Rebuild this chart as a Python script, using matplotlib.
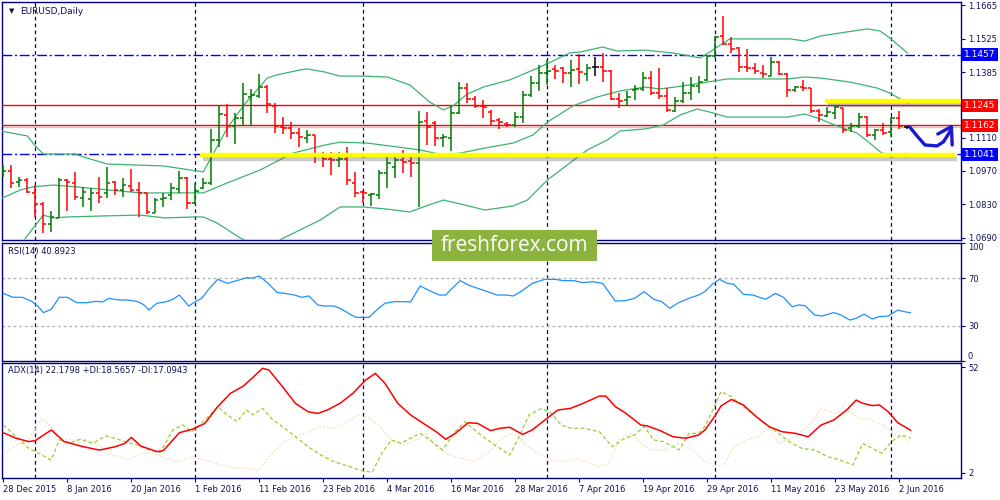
import matplotlib
matplotlib.use('Agg')
import matplotlib.pyplot as plt
from matplotlib.collections import LineCollection
import matplotlib.patheffects as pe
from matplotlib.patches import Rectangle
import numpy as np

# ---------------- data ----------------
date_labels = ['28 Dec 2015', '8 Jan 2016', '20 Jan 2016', '1 Feb 2016', '11 Feb 2016',
               '23 Feb 2016', '4 Mar 2016', '16 Mar 2016', '28 Mar 2016', '7 Apr 2016',
               '19 Apr 2016', '29 Apr 2016', '11 May 2016', '23 May 2016', '2 Jun 2016']
date_label_bars = [0, 8, 16, 24, 32, 40, 48, 56, 64, 72, 80, 88, 96, 104, 112]
month_start_bars = [4, 24, 45, 68, 89, 111]

opens = [1.0960, 1.0970, 1.0925, 1.0932, 1.0876, 1.0832, 1.0748, 1.0771, 1.0932, 1.0921,
         1.0855, 1.0852, 1.0879, 1.0876, 1.0925, 1.0890, 1.0908, 1.0890, 1.0876, 1.0792,
         1.0851, 1.0869, 1.0893, 1.0939, 1.0834, 1.0900, 1.0918, 1.1100, 1.1205, 1.1159,
         1.1191, 1.1282, 1.1286, 1.1324, 1.1243, 1.1156, 1.1149, 1.1128, 1.1107, 1.1121,
         1.1037, 1.1019, 1.1016, 1.1019, 1.0921, 1.0883, 1.0869, 1.0869, 1.0960, 1.0988,
         1.1016, 1.1012, 1.1002, 1.1180, 1.1170, 1.1107, 1.1107, 1.1212, 1.1317, 1.1271,
         1.1243, 1.1219, 1.1184, 1.1167, 1.1163, 1.1195, 1.1289, 1.1340, 1.1380, 1.1396,
         1.1401, 1.1382, 1.1396, 1.1377, 1.1408, 1.1408, 1.1391, 1.1271, 1.1268, 1.1310,
         1.1313, 1.1359, 1.1299, 1.1285, 1.1223, 1.1265, 1.1299, 1.1327, 1.1352, 1.1452,
         1.1536, 1.1503, 1.1487, 1.1408, 1.1401, 1.1382, 1.1368, 1.1429, 1.1377, 1.1310,
         1.1321, 1.1317, 1.1223, 1.1201, 1.1215, 1.1233, 1.1149, 1.1159, 1.1198, 1.1121,
         1.1142, 1.1135, 1.1191, 1.1153]
highs = [1.0995, 1.0995, 1.0943, 1.0939, 1.0911, 1.0841, 1.0804, 1.0939, 1.0935, 1.0967,
         1.0904, 1.0897, 1.0943, 1.0988, 1.0928, 1.0939, 1.0977, 1.0925, 1.0879, 1.0855,
         1.0879, 1.0918, 1.0971, 1.0946, 1.0921, 1.0939, 1.1145, 1.1243, 1.1250, 1.1215,
         1.1338, 1.1313, 1.1377, 1.1331, 1.1254, 1.1195, 1.1177, 1.1149, 1.1142, 1.1121,
         1.1051, 1.1051, 1.1051, 1.1072, 1.0967, 1.0890, 1.0879, 1.0974, 1.1044, 1.1030,
         1.1058, 1.1044, 1.1222, 1.1219, 1.1181, 1.1125, 1.1243, 1.1345, 1.1338, 1.1285,
         1.1268, 1.1226, 1.1191, 1.1177, 1.1219, 1.1307, 1.1368, 1.1415, 1.1436, 1.1415,
         1.1408, 1.1436, 1.1461, 1.1419, 1.1447, 1.1464, 1.1394, 1.1296, 1.1307, 1.1331,
         1.1387, 1.1391, 1.1401, 1.1317, 1.1279, 1.1345, 1.1366, 1.1368, 1.1457, 1.1536,
         1.1620, 1.1531, 1.1491, 1.1480, 1.1422, 1.1415, 1.1447, 1.1431, 1.1380, 1.1327,
         1.1352, 1.1317, 1.1229, 1.1240, 1.1243, 1.1233, 1.1170, 1.1215, 1.1201, 1.1145,
         1.1173, 1.1195, 1.1222, 1.1159]
lows = [1.0946, 1.0897, 1.0901, 1.0876, 1.0778, 1.0711, 1.0713, 1.0771, 1.0804, 1.0848,
        1.0820, 1.0804, 1.0834, 1.0855, 1.0869, 1.0859, 1.0883, 1.0778, 1.0790, 1.0792,
        1.0820, 1.0848, 1.0876, 1.0809, 1.0832, 1.0893, 1.0911, 1.1072, 1.1111, 1.1083,
        1.1159, 1.1159, 1.1275, 1.1215, 1.1128, 1.1125, 1.1103, 1.1069, 1.1089, 1.1002,
        1.0988, 1.0953, 1.0986, 1.0911, 1.0859, 1.0834, 1.0823, 1.0851, 1.0897, 1.0939,
        1.0963, 1.0946, 1.0820, 1.1079, 1.1075, 1.1072, 1.1055, 1.1209, 1.1257, 1.1233,
        1.1191, 1.1163, 1.1145, 1.1153, 1.1153, 1.1170, 1.1282, 1.1307, 1.1331, 1.1354,
        1.1338, 1.1324, 1.1335, 1.1349, 1.1368, 1.1345, 1.1268, 1.1233, 1.1247, 1.1268,
        1.1307, 1.1289, 1.1271, 1.1219, 1.1219, 1.1257, 1.1268, 1.1296, 1.1347, 1.1443,
        1.1498, 1.1466, 1.1387, 1.1387, 1.1377, 1.1359, 1.1368, 1.1373, 1.1282, 1.1303,
        1.1307, 1.1215, 1.1177, 1.1198, 1.1187, 1.1131, 1.1135, 1.1149, 1.1111, 1.1100,
        1.1121, 1.1111, 1.1145, 1.1145]
closes = [1.0970, 1.0918, 1.0932, 1.0883, 1.0832, 1.0746, 1.0778, 1.0932, 1.0925, 1.0862,
          1.0883, 1.0879, 1.0862, 1.0918, 1.0890, 1.0910, 1.0890, 1.0876, 1.0799, 1.0848,
          1.0855, 1.0897, 1.0939, 1.0834, 1.0887, 1.0921, 1.1100, 1.1209, 1.1159, 1.1191,
          1.1292, 1.1290, 1.1324, 1.1251, 1.1159, 1.1149, 1.1128, 1.1111, 1.1121, 1.1041,
          1.1019, 1.1016, 1.1019, 1.0932, 1.0879, 1.0876, 1.0874, 1.0960, 1.1005, 1.1016,
          1.1009, 1.1002, 1.1177, 1.1156, 1.1107, 1.1111, 1.1212, 1.1317, 1.1272, 1.1243,
          1.1240, 1.1181, 1.1177, 1.1163, 1.1195, 1.1289, 1.1340, 1.1380, 1.1391, 1.1391,
          1.1382, 1.1394, 1.1387, 1.1401, 1.1408, 1.1391, 1.1273, 1.1265, 1.1282, 1.1313,
          1.1359, 1.1296, 1.1286, 1.1226, 1.1265, 1.1299, 1.1327, 1.1345, 1.1452, 1.1533,
          1.1503, 1.1480, 1.1405, 1.1402, 1.1391, 1.1377, 1.1429, 1.1377, 1.1310, 1.1321,
          1.1317, 1.1223, 1.1205, 1.1219, 1.1237, 1.1142, 1.1159, 1.1198, 1.1121, 1.1142,
          1.1131, 1.1191, 1.1159, 1.1153]

# Bollinger bands
bb_up_x = [-0.4, 3.0, 4.0, 5.0, 9.0, 10.0, 13.0, 20.0, 25.0, 28.0, 30.0, 33.0, 34.2, 37.1, 38.0,
           40.2, 42.1, 45.0, 48.0, 50.8, 53.3, 55.0, 56.2, 58.0, 60.0, 63.3, 67.1, 70.8, 72.1,
           74.9, 76.7, 80.2, 83.7, 87.1, 88.3, 90.8, 98.3, 100.2, 102.1, 104.6, 108.0, 109.6,
           110.8, 113.0]
bb_up = [1.1138, 1.1117, 1.1075, 1.1041, 1.1041, 1.1029, 1.0999, 1.0991, 1.0966, 1.1150, 1.1243,
         1.1360, 1.1373, 1.1394, 1.1398, 1.1385, 1.1368, 1.1368, 1.1364, 1.1331, 1.1259, 1.1226,
         1.1243, 1.1293, 1.1322, 1.1352, 1.1406, 1.1465, 1.1469, 1.1490, 1.1473, 1.1477, 1.1465,
         1.1444, 1.1469, 1.1524, 1.1524, 1.1515, 1.1536, 1.1549, 1.1566, 1.1557, 1.1528, 1.1465]
bb_mid_x = [-0.4, 2.1, 3.7, 6.2, 9.2, 13.3, 17.1, 20.2, 25.0, 28.0, 32.1, 36.2, 40.2, 42.1, 45.5,
            49.2, 52.1, 55.0, 57.1, 60.2, 63.7, 66.2, 68.0, 71.2, 74.2, 77.1, 80.2, 82.1, 85.0,
            88.0, 90.5, 95.5, 98.0, 100.2, 102.1, 105.8, 109.2, 110.8, 113.0]
bb_mid = [1.0852, 1.0890, 1.0903, 1.0911, 1.0903, 1.0890, 1.0878, 1.0878, 1.0878, 1.0920, 1.0974,
          1.1045, 1.1079, 1.1091, 1.1087, 1.1071, 1.1058, 1.1037, 1.1045, 1.1066, 1.1087, 1.1121,
          1.1175, 1.1243, 1.1280, 1.1306, 1.1322, 1.1314, 1.1327, 1.1343, 1.1356, 1.1356, 1.1356,
          1.1364, 1.1360, 1.1343, 1.1318, 1.1297, 1.1255]
bb_low_x = [2.7, 5.0, 6.2, 8.0, 12.1, 17.1, 20.2, 23.7, 25.0, 26.7, 29.6, 31.4, 33.3, 34.8, 39.6,
            42.1, 45.0, 48.0, 50.8, 52.5, 55.0, 57.1, 60.2, 63.7, 65.5, 68.0, 70.8, 73.0, 75.5,
            77.1, 80.2, 82.5, 84.6, 86.7, 88.3, 90.5, 96.2, 98.0, 100.2, 102.1, 104.2, 106.7,
            108.3, 109.8, 113.0]
bb_low = [1.0685, 1.0785, 1.0773, 1.0777, 1.0781, 1.0785, 1.0773, 1.0777, 1.0777, 1.0752, 1.0689,
          1.0660, 1.0651, 1.0685, 1.0764, 1.0819, 1.0819, 1.0810, 1.0798, 1.0819, 1.0848, 1.0832,
          1.0806, 1.0823, 1.0848, 1.0932, 1.1003, 1.1058, 1.1100, 1.1138, 1.1146, 1.1163, 1.1205,
          1.1230, 1.1217, 1.1196, 1.1196, 1.1196, 1.1209, 1.1188, 1.1159, 1.1129, 1.1087, 1.1045,
          1.1029]

# horizontal levels
level_blue = [1.1457, 1.1041]
level_red = [1.1245, 1.1162]
bid_price = 1.1153
yellow_low = {'x': [24.6, 118.9], 'y': 1.1036}
yellow_high = {'x': [102.7, 119.7], 'y': 1.1263}
arrow_x = [113.3, 114.3, 115.2, 116.7, 117.5, 118.3, 118.5]
arrow_y = [1.1154, 1.1113, 1.1079, 1.1075, 1.1092, 1.1134, 1.1156]
arrow_head_x = [116.8, 118.5, 118.6]
arrow_head_y = [1.1125, 1.1156, 1.1079]

price_ticks = [1.1665, 1.1525, 1.1385, 1.1245, 1.1110, 1.0970, 1.0830, 1.0690]

# RSI(14)
rsi_x = [0.0, 1.2, 2.4, 3.6, 4.4, 5.0, 6.0, 7.0, 8.0, 9.2, 10.4, 11.6, 12.4, 13.2, 14.4, 15.6,
         16.8, 17.6, 18.2, 19.2, 20.4, 21.2, 22.0, 23.2, 24.0, 24.8, 25.6, 26.8, 28.0, 29.2,
         30.4, 31.2, 32.0, 33.1, 34.2, 35.2, 36.4, 37.3, 38.2, 39.3, 40.1, 41.3, 42.1, 43.3,
         44.1, 45.7, 46.9, 47.7, 48.9, 50.1, 50.9, 52.1, 53.1, 54.5, 55.3, 56.1, 57.1, 58.1,
         59.3, 60.5, 61.7, 62.9, 63.7, 64.7, 66.1, 67.7, 68.9, 70.1, 71.3, 72.5, 73.7, 74.9,
         76.5, 77.7, 78.9, 80.1, 81.3, 82.3, 83.3, 84.4, 85.7, 86.9, 87.7, 88.5, 89.5, 90.5,
         91.3, 92.5, 93.7, 94.5, 95.3, 96.5, 97.5, 98.6, 99.4, 100.2, 101.4, 102.3, 103.8,
         104.7, 105.8, 106.6, 107.6, 108.6, 109.5, 110.6, 111.8, 112.6, 113.4]
rsi_v = [57.3, 54.0, 54.0, 50.3, 46.0, 41.0, 43.8, 54.0, 54.0, 49.4, 49.4, 50.6, 50.0, 53.1, 51.7,
         51.7, 50.3, 47.5, 43.2, 48.9, 50.3, 52.3, 55.9, 46.6, 50.3, 53.1, 60.2, 69.2, 65.8, 68.1,
         70.6, 70.3, 72.0, 65.8, 58.2, 57.3, 55.9, 54.0, 55.1, 47.5, 46.6, 46.6, 44.6, 39.8, 37.0,
         37.0, 44.6, 48.9, 50.3, 50.3, 50.0, 63.6, 60.2, 55.9, 55.9, 61.6, 68.1, 64.4, 61.6, 58.8,
         55.9, 55.9, 55.1, 58.8, 65.8, 69.2, 69.2, 68.1, 68.1, 66.4, 67.2, 65.8, 50.8, 51.1, 53.1,
         58.8, 52.3, 50.3, 44.6, 49.4, 53.1, 55.9, 58.8, 64.4, 69.2, 65.8, 65.0, 56.5, 55.9, 54.0,
         52.3, 57.3, 54.0, 46.0, 47.5, 46.9, 39.0, 38.1, 41.0, 39.0, 34.7, 36.2, 39.8, 35.6, 37.6,
         38.1, 43.2, 41.8, 40.9]

# ADX(14), +DI, -DI
adx_x = [0.0, 1.6, 3.2, 4.0, 6.0, 7.6, 10.0, 12.0, 14.0, 15.2, 16.0, 17.2, 19.2, 20.0, 22.0, 23.6,
         25.2, 26.8, 28.4, 30.0, 31.2, 32.4, 33.2, 34.9, 36.5, 38.1, 39.3, 40.5, 42.1, 43.7, 45.3,
         46.5, 47.7, 49.3, 50.9, 52.5, 54.1, 55.3, 56.5, 58.1, 59.3, 60.9, 62.1, 63.3, 64.9, 66.1,
         67.7, 69.3, 70.9, 72.5, 74.5, 75.3, 76.5, 77.7, 79.7, 80.5, 82.1, 83.7, 85.3, 86.9, 87.7,
         88.9, 89.7, 91.0, 92.5, 94.1, 95.7, 97.3, 99.0, 100.6, 102.2, 103.8, 105.4, 106.6, 107.4,
         108.6, 109.5, 110.6, 111.8, 113.4]
adx_v = [21.0, 18.4, 16.8, 17.3, 22.3, 16.8, 14.4, 12.8, 14.4, 16.0, 18.8, 14.7, 12.1, 12.5, 21.0,
         22.6, 25.4, 33.3, 39.6, 43.0, 47.1, 51.4, 50.6, 42.7, 34.9, 30.9, 30.1, 31.7, 34.9, 39.6,
         45.9, 49.0, 44.3, 34.9, 29.4, 25.4, 21.5, 17.9, 20.7, 25.7, 25.4, 22.0, 23.1, 23.6, 20.2,
         22.3, 27.0, 31.7, 32.5, 34.9, 38.3, 38.3, 33.3, 30.5, 24.6, 24.2, 22.0, 19.1, 18.4, 19.9,
         22.3, 28.6, 33.6, 36.7, 34.1, 28.6, 23.9, 21.5, 20.7, 19.1, 24.6, 27.0, 31.7, 36.4, 34.9,
         33.8, 34.1, 30.9, 25.7, 22.2]
pdi_x = [0.0, 1.6, 3.2, 4.4, 6.0, 7.0, 8.4, 9.6, 11.2, 12.8, 14.4, 15.6, 16.8, 18.0, 19.6, 21.2,
         22.4, 23.6, 25.2, 26.8, 28.0, 29.2, 30.4, 31.2, 32.4, 33.7, 35.2, 36.5, 38.1, 39.7, 41.3,
         43.3, 44.5, 46.1, 47.3, 48.5, 49.7, 50.9, 52.1, 53.3, 54.9, 56.5, 57.7, 58.9, 60.5, 62.1,
         63.3, 64.5, 65.7, 67.3, 68.5, 69.7, 70.9, 72.5, 74.5, 76.1, 77.7, 78.9, 80.1, 81.3, 82.5,
         83.7, 84.5, 85.7, 86.9, 87.7, 88.5, 89.7, 91.0, 92.5, 94.1, 95.7, 96.9, 98.2, 99.8, 101.4,
         103.0, 104.6, 106.2, 107.4, 108.6, 109.8, 111.0, 112.2, 113.4]
pdi_v = [24.7, 19.2, 13.6, 11.3, 8.1, 17.6, 16.3, 17.9, 16.0, 19.5, 17.9, 16.3, 15.2, 13.2, 11.6,
         22.3, 24.7, 21.5, 27.0, 33.3, 29.4, 26.2, 31.7, 29.4, 32.5, 27.0, 23.1, 19.2, 14.4, 10.5,
         7.4, 5.0, 3.4, 2.3, 11.3, 17.6, 16.0, 18.4, 20.7, 17.6, 12.9, 21.5, 26.2, 22.3, 17.6, 13.6,
         10.5, 19.2, 29.4, 32.5, 30.2, 24.7, 23.1, 23.1, 21.5, 14.4, 18.4, 19.9, 23.9, 17.6, 16.8,
         14.4, 12.9, 20.7, 20.7, 23.9, 30.2, 40.4, 38.0, 33.3, 28.6, 23.9, 20.7, 16.8, 13.6, 12.9,
         9.7, 8.1, 5.8, 16.0, 13.6, 11.3, 16.8, 19.9, 18.6]
mdi_x = [0.0, 1.6, 3.2, 4.8, 6.0, 7.2, 8.8, 10.4, 11.6, 13.2, 15.6, 17.2, 18.8, 20.4, 22.0, 23.6,
         25.2, 27.2, 29.2, 30.8, 32.0, 33.2, 34.9, 36.5, 38.1, 39.7, 41.3, 42.9, 44.5, 45.7, 46.9,
         48.5, 50.1, 51.7, 52.9, 54.1, 55.7, 57.3, 58.9, 60.5, 62.1, 63.3, 64.5, 65.3, 66.9, 68.5,
         70.1, 71.7, 73.3, 74.5, 75.7, 76.9, 78.5, 79.7, 80.9, 82.9, 84.5, 86.1, 87.7, 88.9, 90.1,
         91.3, 92.9, 94.5, 95.7, 96.9, 98.9, 100.6, 102.2, 103.8, 105.4, 107.0, 108.6, 109.8,
         111.4, 113.4]
mdi_v = [11.3, 15.2, 17.6, 27.8, 23.9, 18.4, 17.6, 17.9, 16.0, 11.3, 8.1, 11.3, 11.3, 8.9, 7.4,
         9.7, 8.1, 5.8, 4.2, 4.2, 3.4, 9.7, 16.0, 19.2, 21.5, 23.9, 23.1, 26.2, 29.4, 27.8, 24.7,
         17.6, 15.2, 17.6, 20.7, 14.4, 10.5, 8.9, 7.4, 11.3, 17.6, 20.7, 19.2, 15.2, 11.3, 8.1, 7.4,
         8.9, 6.6, 5.0, 6.6, 17.6, 20.7, 16.0, 12.9, 12.9, 16.0, 12.9, 7.4, 5.0, 5.8, 14.4, 17.6,
         19.2, 23.9, 16.0, 19.2, 23.9, 32.5, 30.2, 31.7, 27.8, 27.0, 24.7, 20.7, 17.1]

# ---------------- styling ----------------
NAVY = '#000080'
TXT = '#10105a'
BLUE = '#0000ff'
RED = '#ff0000'
BULL = '#007a00'
BEAR = '#ff0000'
BBCOL = '#3cb371'
plt.rcParams['font.family'] = ['DejaVu Sans']

fig = plt.figure(figsize=(10, 5), dpi=100)
fig.patch.set_facecolor('white')
ax = fig.add_axes([0.002, 0.52, 0.959, 0.476])
ax_rsi = fig.add_axes([0.002, 0.278, 0.959, 0.236], sharex=ax)
ax_adx = fig.add_axes([0.002, 0.044, 0.959, 0.230], sharex=ax)

XMIN, XMAX = -0.16, 119.7
for a in (ax, ax_rsi, ax_adx):
    a.set_xlim(XMIN, XMAX)
    for s in a.spines.values():
        s.set_color(NAVY)
        s.set_linewidth(1.0)
    a.yaxis.tick_right()
    a.tick_params(axis='y', colors=NAVY, labelcolor=TXT, labelsize=6, length=3, width=0.8, pad=2)
    for b in month_start_bars:
        a.axvline(b, color=NAVY, lw=0.9, ls=(0, (3, 2.5)), zorder=1)

# ---- main panel ----
ax.set_ylim(1.06804, 1.16788)
n = len(opens)
segs, cols = [], []
for i in range(n):
    o, h, l, c = opens[i], highs[i], lows[i], closes[i]
    col = BULL if c > o else (BEAR if c < o else 'black')
    segs += [[(i, l), (i, h)], [(i - 0.4, o), (i, o)], [(i, c), (i + 0.4, c)]]
    cols += [col] * 3
ax.add_collection(LineCollection(segs, colors=cols, linewidths=1.1, zorder=5))

ax.plot(bb_up_x, bb_up, color=BBCOL, lw=0.9, zorder=4)
ax.plot(bb_mid_x, bb_mid, color=BBCOL, lw=0.9, zorder=4)
ax.plot(bb_low_x, bb_low, color=BBCOL, lw=0.9, zorder=4)

for lv in level_blue:
    ax.axhline(lv, color=BLUE, lw=1.0, ls=(0, (7, 2, 1.5, 2)), zorder=3)
ax.axhline(bid_price, color='#c8c8c8', lw=1.0, zorder=2)
for lv in level_red:
    ax.axhline(lv, color=RED, lw=1.0, zorder=3)

shadow = [pe.SimpleLineShadow(offset=(2, -2.5), shadow_color='#505050', alpha=0.3), pe.Normal()]
ax.plot(yellow_low['x'], [yellow_low['y']] * 2, color='#ffff00', lw=3.2,
        solid_capstyle='butt', zorder=6, path_effects=shadow)
ax.plot(yellow_high['x'], [yellow_high['y']] * 2, color='#ffff00', lw=3.2,
        solid_capstyle='butt', zorder=6, path_effects=shadow, clip_on=True)

ax.plot(arrow_x, arrow_y, color='#1a1acc', lw=2.4, solid_capstyle='round',
        solid_joinstyle='round', zorder=8)
ax.plot(arrow_head_x, arrow_head_y, color='#1a1acc', lw=2.4, solid_capstyle='round',
        solid_joinstyle='round', zorder=8)

ax.set_yticks(price_ticks)
# the 1.1245 tick label sits under its own boxed label, as in the reference
ax.set_yticklabels(['' if abs(v - 1.1245) < 1e-6 else '%.4f' % v for v in price_ticks])
ax.tick_params(axis='x', bottom=False, labelbottom=False)

ytr = ax.get_yaxis_transform()
# current-price (bid) marker: mostly hidden under the 1.1162 label
ax.add_patch(Rectangle((1.0022, bid_price - 0.0021), 0.0355, 0.0042, transform=ytr,
                       facecolor=NAVY, edgecolor='none', clip_on=False, zorder=9))


def price_box(val, fc):
    ax.text(1.0035, val, '%.4f' % val, transform=ytr, ha='left', va='center', fontsize=6.5,
            color='white', zorder=10, clip_on=False,
            bbox=dict(boxstyle='square,pad=0.22', fc=fc, ec='none'))


price_box(1.1457, BLUE)
price_box(1.1245, RED)
price_box(1.1162, RED)
price_box(1.1041, BLUE)

ax.text(0.0073, 0.962, '\u25BC', transform=ax.transAxes, fontsize=5, color=TXT, va='center')
ax.text(0.0188, 0.962, 'EURUSD,Daily', transform=ax.transAxes, fontsize=6.5, color=TXT,
        va='center', ha='left')

# ---- RSI panel ----
ax_rsi.set_ylim(0, 100)
ax_rsi.plot(rsi_x, rsi_v, color='#1e90ff', lw=0.9, zorder=4)
for lv in (70, 30):
    ax_rsi.axhline(lv, color='#b4b4b4', lw=1.0, ls=(0, (2, 2)), zorder=2)
ax_rsi.set_yticks([100, 70, 30, 0])
ax_rsi.set_yticklabels(['100', '70', '30', '0'])
tl = ax_rsi.get_yticklabels()
tl[0].set_va('top')
tl[3].set_va('bottom')
ax_rsi.tick_params(axis='x', bottom=False, labelbottom=False)
ax_rsi.text(0.006, 0.932, 'RSI(14) 40.8923', transform=ax_rsi.transAxes, fontsize=6,
            color=TXT, va='center', ha='left')

# ---- ADX panel ----
ax_adx.set_ylim(-0.36, 53.9)
ax_adx.plot(mdi_x, mdi_v, color='#f5deb3', lw=0.9, ls=(0, (1.5, 1.5)), zorder=3)
ax_adx.plot(pdi_x, pdi_v, color='#9acd32', lw=0.9, ls=(0, (3, 2)), zorder=3)
ax_adx.plot(adx_x, adx_v, color='#ff0000', lw=1.1, zorder=4)
ax_adx.set_yticks([52, 2])
ax_adx.set_yticklabels(['52', '2'])
ax_adx.set_xticks(date_label_bars)
ax_adx.set_xticklabels(date_labels)
for t in ax_adx.get_xticklabels():
    t.set_ha('left')
ax_adx.tick_params(axis='x', colors=NAVY, labelcolor=TXT, labelsize=6, length=3, width=0.8, pad=2)
ax_adx.text(0.006, 0.939, 'ADX(14) 22.1798 +DI:18.5657 -DI:17.0943', transform=ax_adx.transAxes,
            fontsize=6, color=TXT, va='center', ha='left')

# ---- watermark ----
fig.patches.append(Rectangle((0.432, 0.479), 0.165, 0.061, transform=fig.transFigure,
                             facecolor='#8db33f', edgecolor='none', zorder=20))
fig.text(0.5145, 0.509, 'freshforex.com', ha='center', va='center', fontsize=15,
         color='white', family='Open Sans', zorder=21)

fig.savefig('out.png', dpi=100)
